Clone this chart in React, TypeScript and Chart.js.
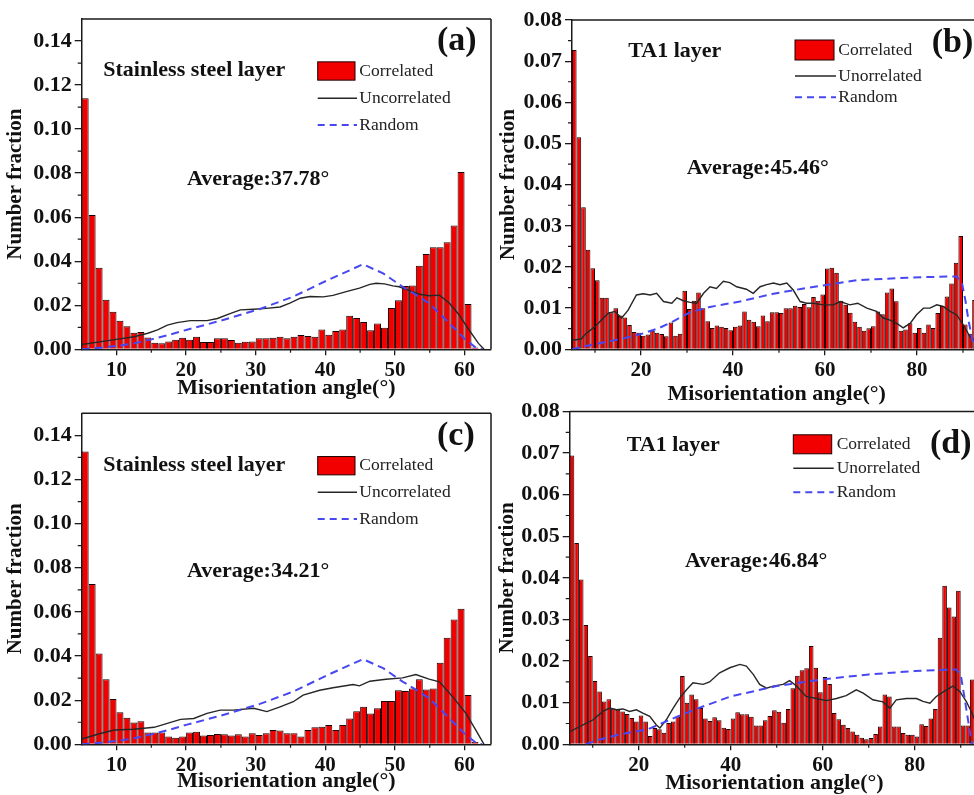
import React, { useEffect, useRef } from "react";
import { Chart, registerables } from "chart.js";
Chart.register(...registerables);

const SERIF = '"Liberation Serif", "Times New Roman", Times, serif';

// ---------- categories (bin centres, degrees) ----------
const steelAngles = [
  5.5, 6.5, 7.5, 8.5, 9.5, 10.5, 11.5, 12.5, 13.5, 14.5, 15.5, 16.5, 17.5, 18.5, 19.5,
  20.5, 21.5, 22.5, 23.5, 24.5, 25.5, 26.5, 27.5, 28.5, 29.5, 30.5, 31.5, 32.5, 33.5, 34.5,
  35.5, 36.5, 37.5, 38.5, 39.5, 40.5, 41.5, 42.5, 43.5, 44.5, 45.5, 46.5, 47.5, 48.5, 49.5,
  50.5, 51.5, 52.5, 53.5, 54.5, 55.5, 56.5, 57.5, 58.5, 59.5, 60.5, 61.5,
];
const ta1Angles = [
  5.5, 6.5, 7.5, 8.5, 9.5, 10.5, 11.5, 12.5, 13.5, 14.5, 15.5, 16.5, 17.5, 18.5, 19.5,
  20.5, 21.5, 22.5, 23.5, 24.5, 25.5, 26.5, 27.5, 28.5, 29.5, 30.5, 31.5, 32.5, 33.5, 34.5,
  35.5, 36.5, 37.5, 38.5, 39.5, 40.5, 41.5, 42.5, 43.5, 44.5, 45.5, 46.5, 47.5, 48.5, 49.5,
  50.5, 51.5, 52.5, 53.5, 54.5, 55.5, 56.5, 57.5, 58.5, 59.5, 60.5, 61.5, 62.5, 63.5, 64.5,
  65.5, 66.5, 67.5, 68.5, 69.5, 70.5, 71.5, 72.5, 73.5, 74.5, 75.5, 76.5, 77.5, 78.5, 79.5,
  80.5, 81.5, 82.5, 83.5, 84.5, 85.5, 86.5, 87.5, 88.5, 89.5, 90.5, 91.5, 92.5,
];

// ---------- correlated (bars) ----------
const corrA = [
  0.114, 0.061, 0.037, 0.0225, 0.017, 0.013, 0.0105, 0.0075, 0.0078, 0.0054,
  0.003, 0.0027, 0.0035, 0.0043, 0.0053, 0.0043, 0.0057, 0.0033, 0.0033, 0.005,
  0.005, 0.0042, 0.003, 0.0034, 0.0035, 0.005, 0.005, 0.0053, 0.0057, 0.005,
  0.0057, 0.0065, 0.006, 0.0057, 0.009, 0.0066, 0.0083, 0.009, 0.0152, 0.0142,
  0.0124, 0.0087, 0.0117, 0.0098, 0.0187, 0.0223, 0.0288, 0.029, 0.0379, 0.0433,
  0.0463, 0.0463, 0.0486, 0.0562, 0.0805, 0.0206, 0.0008,
];
const corrC = [
  0.1327, 0.0727, 0.0411, 0.0295, 0.0205, 0.0145, 0.012, 0.0099, 0.0105, 0.0054,
  0.0054, 0.0054, 0.0035, 0.003, 0.0035, 0.0053, 0.0057, 0.004, 0.0042, 0.0047,
  0.0045, 0.004, 0.0045, 0.0035, 0.005, 0.0042, 0.005, 0.0065, 0.0062, 0.005,
  0.005, 0.0035, 0.0065, 0.0077, 0.008, 0.0087, 0.0065, 0.0087, 0.0117, 0.015,
  0.017, 0.014, 0.0163, 0.0196, 0.0196, 0.0245, 0.0242, 0.0253, 0.0295, 0.0248,
  0.0253, 0.0369, 0.0483, 0.0566, 0.0614, 0.0223, 0.001,
];
const corrB = [
  0.0727, 0.0515, 0.0345, 0.0242, 0.0197, 0.0168, 0.0125, 0.0125, 0.009, 0.01,
  0.0082, 0.0077, 0.0059, 0.0042, 0.004, 0.0033, 0.0036, 0.0045, 0.004, 0.0037,
  0.0032, 0.0065, 0.0033, 0.0038, 0.0142, 0.0098, 0.0118, 0.0138, 0.01, 0.0068,
  0.0052, 0.0058, 0.0055, 0.0052, 0.0046, 0.0055, 0.0058, 0.0092, 0.0072, 0.0067,
  0.0056, 0.0082, 0.0068, 0.009, 0.009, 0.0088, 0.01, 0.01, 0.0106, 0.0103,
  0.011, 0.0102, 0.0127, 0.0118, 0.0133, 0.0196, 0.0198, 0.0186, 0.0118, 0.0108,
  0.0089, 0.0067, 0.0055, 0.0045, 0.0051, 0.0056, 0.0092, 0.0085, 0.0138, 0.0148,
  0.0117, 0.0045, 0.0048, 0.0063, 0.004, 0.0052, 0.004, 0.006, 0.0052, 0.0088,
  0.0105, 0.0128, 0.016, 0.021, 0.0275, 0.006, 0.0038, 0.012,
];
const corrD = [
  0.0694, 0.0484, 0.0396, 0.0287, 0.0212, 0.0152, 0.0127, 0.0103, 0.0108, 0.0086,
  0.0083, 0.0079, 0.0073, 0.0063, 0.0055, 0.0069, 0.0055, 0.002, 0.0039, 0.0036,
  0.0028, 0.0051, 0.0055, 0.0067, 0.0164, 0.01, 0.012, 0.0108, 0.0087, 0.0062,
  0.0056, 0.0065, 0.0058, 0.004, 0.0037, 0.0062, 0.0077, 0.0072, 0.0072, 0.0066,
  0.0045, 0.0045, 0.0058, 0.0068, 0.0082, 0.0078, 0.0052, 0.0085, 0.0135, 0.0165,
  0.0178, 0.0183, 0.0236, 0.0184, 0.0125, 0.0162, 0.0145, 0.0075, 0.006, 0.0047,
  0.0039, 0.0031, 0.0023, 0.0016, 0.0012, 0.0015, 0.0025, 0.0043, 0.012, 0.0115,
  0.0043, 0.0043, 0.0027, 0.0023, 0.0023, 0.0019, 0.0048, 0.0044, 0.0062, 0.0085,
  0.0256, 0.0381, 0.0329, 0.0307, 0.0369, 0.0045, 0.0045, 0.0156,
];

// ---------- uncorrelated (black lines) ----------
const uncorrAX = [5, 7.8, 10, 12.5, 14.5, 15.9, 17.3, 18.7, 20.6, 23, 24.5, 26.4, 27.8, 29.7, 31.5, 33.5, 34.9, 36.4, 37.8, 39.7, 41.1, 43, 44.9, 46.4, 47.3, 48.5, 49.7, 50.6, 52, 53.5, 54.9, 56.4, 57.8, 59.2, 60.6, 62, 62.8];
const uncorrAY = [0.0022, 0.0035, 0.0045, 0.0057, 0.0073, 0.0088, 0.011, 0.0121, 0.013, 0.013, 0.014, 0.0163, 0.0179, 0.0182, 0.0186, 0.0192, 0.021, 0.0232, 0.024, 0.0238, 0.0245, 0.0262, 0.0278, 0.0295, 0.03, 0.0297, 0.0288, 0.0284, 0.0268, 0.025, 0.0243, 0.0246, 0.021, 0.0157, 0.009, 0.0027, 0];
const uncorrCX = [5, 7.8, 9.7, 12.5, 15.4, 17.3, 19.2, 21.1, 23, 24.9, 26.8, 29.7, 31.6, 33.5, 35.4, 36.8, 39.2, 41.1, 44, 44.9, 46.4, 48.7, 51.1, 53, 54.9, 56.4, 58.3, 60.2, 61.6, 62.8];
const uncorrCY = [0.0024, 0.005, 0.0065, 0.0068, 0.0077, 0.0095, 0.0113, 0.0117, 0.014, 0.0155, 0.0155, 0.0163, 0.0148, 0.017, 0.0193, 0.0223, 0.0245, 0.0256, 0.0271, 0.0265, 0.0286, 0.0295, 0.0301, 0.0316, 0.0295, 0.0283, 0.0215, 0.014, 0.0065, 0];
const uncorrBX = [5, 7, 8, 10, 11.4, 12.9, 14.3, 15.8, 17.2, 19, 20.5, 22, 23.4, 24.9, 26.7, 27.8, 29.2, 30.7, 32.1, 33.6, 35, 36.4, 37.9, 39.3, 40.8, 42.9, 44.4, 45.9, 47.3, 48.8, 50.2, 51.7, 53.1, 54.6, 56, 57.5, 59.6, 61.8, 63.3, 65.4, 67.1, 69.1, 71.2, 72.7, 74.1, 75.6, 77, 78.5, 79.9, 81.4, 82.8, 84.3, 85.7, 87.2, 88.6, 90.1, 91.5, 92.5];
const uncorrBY = [0.0022, 0.0025, 0.0038, 0.0055, 0.0071, 0.0088, 0.0092, 0.0076, 0.0095, 0.0132, 0.0135, 0.0132, 0.0136, 0.0116, 0.0112, 0.0125, 0.0118, 0.0114, 0.0112, 0.0136, 0.0152, 0.0148, 0.0165, 0.0162, 0.0152, 0.0146, 0.0136, 0.0152, 0.0157, 0.0161, 0.0157, 0.0161, 0.0144, 0.0116, 0.0112, 0.0112, 0.0108, 0.0108, 0.0116, 0.0108, 0.0112, 0.01, 0.0092, 0.0076, 0.0071, 0.0063, 0.0052, 0.0063, 0.0084, 0.01, 0.01, 0.0108, 0.0104, 0.0092, 0.0084, 0.0059, 0.0031, 0.0022];
const uncorrDX = [5.2, 7.9, 10.1, 12.2, 13.7, 15.1, 16.6, 18, 19.5, 20.9, 22.4, 23.8, 24.6, 26, 27.5, 28.9, 30.4, 31.8, 34, 35.4, 37.6, 39.8, 42, 43.4, 44.9, 46.3, 47.8, 49.2, 51.4, 52.8, 54.3, 56.4, 58.6, 60.8, 63, 65.1, 67.3, 68.8, 70.9, 73.1, 74.6, 76, 78.2, 80.4, 81.8, 83.3, 84.7, 86.9, 88.3, 89.8, 91.2, 92.3, 93];
const uncorrDY = [0.0031, 0.0047, 0.0059, 0.0079, 0.0087, 0.0083, 0.0085, 0.0079, 0.0083, 0.0075, 0.0067, 0.0047, 0.0039, 0.0059, 0.0087, 0.0111, 0.0131, 0.0148, 0.0144, 0.015, 0.0172, 0.0184, 0.0192, 0.0188, 0.0168, 0.0144, 0.0135, 0.014, 0.0144, 0.0153, 0.014, 0.0115, 0.011, 0.0105, 0.011, 0.0117, 0.0131, 0.0123, 0.0107, 0.0102, 0.0087, 0.0107, 0.011, 0.011, 0.0103, 0.0099, 0.0115, 0.0131, 0.014, 0.0127, 0.0103, 0.0079, 0.006];

// ---------- random (blue dashed) ----------
const randomSteelX = [5, 8, 10, 12.5, 15, 17.5, 20, 25, 30.6, 35.4, 40.2, 45.4, 48.3, 51.1, 52.9, 54.9, 56.8, 58.7, 60.1, 61.6, 62.5];
const randomSteelY = [0, 0.0008, 0.0015, 0.0027, 0.0045, 0.0065, 0.0088, 0.013, 0.0183, 0.0239, 0.0312, 0.0386, 0.0345, 0.0284, 0.025, 0.0209, 0.015, 0.009, 0.0045, 0.0008, 0];
const randomBX = [5, 8, 12, 16, 20, 24, 27, 30.7, 35, 41.5, 48.8, 55, 59.6, 66.9, 77.8, 84, 88.6, 89.8, 90.5, 91.2, 92, 92.6];
const randomBY = [0, 0.0008, 0.0017, 0.0026, 0.0037, 0.0052, 0.0068, 0.009, 0.0103, 0.0116, 0.0135, 0.0147, 0.0155, 0.0168, 0.0174, 0.0176, 0.0177, 0.016, 0.012, 0.007, 0.0025, 0];
const randomDX = [8.5, 11, 15.5, 22, 28.5, 33, 40, 50, 60, 70, 80, 89, 90, 91, 92, 92.5];
const randomDY = [0, 0.001, 0.0023, 0.0036, 0.0067, 0.0087, 0.0115, 0.014, 0.0156, 0.0168, 0.0176, 0.018, 0.0168, 0.01, 0.003, 0];

// ---------- ticks ----------
const steelXTicks = [10, 20, 30, 40, 50, 60];
const steelXMinor = [15, 25, 35, 45, 55];
const steelYTicks = [0, 0.02, 0.04, 0.06, 0.08, 0.1, 0.12, 0.14];
const steelYMinor = [0.01, 0.03, 0.05, 0.07, 0.09, 0.11, 0.13];
const ta1XTicks = [20, 40, 60, 80];
const ta1XMinor = [10, 30, 50, 70, 90];
const ta1YTicks = [0, 0.01, 0.02, 0.03, 0.04, 0.05, 0.06, 0.07, 0.08];
const ta1YMinor = [0.005, 0.015, 0.025, 0.035, 0.045, 0.055, 0.065, 0.075];

const RED = "#f20000";
const BAR_EDGE = "#1c0000";
const BLUE = "#4848f0";
const BLACK = "#262626";
const AXIS = "#1a1a1a";

type Txt = { text: string; x: number; y: number; size: number; bold: boolean };
type Legend = { x: number; w: number; y1: number; y2: number; y3: number; textX: number; h: number; labels: string[] };
type Panel = {
  id: string; left: number; top: number; width: number; height: number;
  plotLeft: number; plotTop: number; plotRight: number; plotBottom: number;
  xMin: number; xMax: number; yMax: number;
  xTicks: number[]; xMinor: number[]; yTicks: number[]; yMinor: number[];
  xTitlePad: number; yTitlePad: number; rightBorder: boolean;
  barX: number[]; barY: number[]; uX: number[]; uY: number[]; rX: number[]; rY: number[];
  texts: Txt[]; legend: Legend;
};

const panels: Panel[] = [
  {
    id: "a", left: 0, top: 0, width: 500, height: 400,
    plotLeft: 81.7, plotTop: 19, plotRight: 491, plotBottom: 349.3,
    xMin: 5, xMax: 63.8, yMax: 0.15,
    xTicks: steelXTicks, xMinor: steelXMinor, yTicks: steelYTicks, yMinor: steelYMinor,
    xTitlePad: 1, yTitlePad: 5.5, rightBorder: true,
    barX: steelAngles, barY: corrA, uX: uncorrAX, uY: uncorrAY, rX: randomSteelX, rY: randomSteelY,
    texts: [
      { text: "(a)", x: 437, y: 41.7, size: 34, bold: true },
      { text: "Stainless steel layer", x: 103.3, y: 70.7, size: 22, bold: true },
      { text: "Average:37.78°", x: 187, y: 179, size: 22, bold: true },
    ],
    legend: { x: 317.7, w: 37.3, h: 18.3, y1: 71, y2: 98.3, y3: 125, textX: 359.3, labels: ["Correlated", "Uncorrelated", "Random"] },
  },
  {
    id: "b", left: 490, top: 0, width: 500, height: 405,
    plotLeft: 82, plotTop: 20, plotRight: 491.4, plotBottom: 349.3,
    xMin: 5, xMax: 94, yMax: 0.08,
    xTicks: ta1XTicks, xMinor: ta1XMinor, yTicks: ta1YTicks, yMinor: ta1YMinor,
    xTitlePad: 0, yTitlePad: 7.8, rightBorder: false,
    barX: ta1Angles, barY: corrB, uX: uncorrBX, uY: uncorrBY, rX: randomBX, rY: randomBY,
    texts: [
      { text: "(b)", x: 441.7, y: 43.3, size: 34, bold: true },
      { text: "TA1 layer", x: 138.3, y: 51.7, size: 22, bold: true },
      { text: "Average:45.46°", x: 196.7, y: 168.3, size: 22, bold: true },
    ],
    legend: { x: 305, w: 39, h: 20, y1: 50, y2: 76, y3: 97.3, textX: 348.3, labels: ["Correlated", "Unorrelated", "Random"] },
  },
  {
    id: "c", left: 0, top: 395, width: 500, height: 400,
    plotLeft: 81.7, plotTop: 18.3, plotRight: 491, plotBottom: 349.3,
    xMin: 5, xMax: 63.8, yMax: 0.15,
    xTicks: steelXTicks, xMinor: steelXMinor, yTicks: steelYTicks, yMinor: steelYMinor,
    xTitlePad: 2.3, yTitlePad: 5.5, rightBorder: true,
    barX: steelAngles, barY: corrC, uX: uncorrCX, uY: uncorrCY, rX: randomSteelX, rY: randomSteelY,
    texts: [
      { text: "(c)", x: 437, y: 41.7, size: 34, bold: true },
      { text: "Stainless steel layer", x: 103.3, y: 70.7, size: 22, bold: true },
      { text: "Average:34.21°", x: 187, y: 176.7, size: 22, bold: true },
    ],
    legend: { x: 317.7, w: 37.3, h: 18.3, y1: 70.7, y2: 97.3, y3: 124, textX: 359.3, labels: ["Correlated", "Uncorrelated", "Random"] },
  },
  {
    id: "d", left: 490, top: 395, width: 500, height: 400,
    plotLeft: 79.7, plotTop: 16.5, plotRight: 489.1, plotBottom: 349.3,
    xMin: 5, xMax: 94, yMax: 0.08,
    xTicks: ta1XTicks, xMinor: ta1XMinor, yTicks: ta1YTicks, yMinor: ta1YMinor,
    xTitlePad: 1, yTitlePad: 7, rightBorder: false,
    barX: ta1Angles, barY: corrD, uX: uncorrDX, uY: uncorrDY, rX: randomDX, rY: randomDY,
    texts: [
      { text: "(d)", x: 440, y: 49.3, size: 34, bold: true },
      { text: "TA1 layer", x: 136.7, y: 50, size: 22, bold: true },
      { text: "Average:46.84°", x: 195, y: 166.7, size: 22, bold: true },
    ],
    legend: { x: 303.3, w: 38.4, h: 19, y1: 49.3, y2: 73.3, y3: 97.3, textX: 346.7, labels: ["Correlated", "Unorrelated", "Random"] },
  },
];

function makeOverlay(p: Panel) {
  return {
    id: "overlay_" + p.id,
    afterDraw(chart: any) {
      const { ctx, chartArea: a, scales } = chart;
      const xs = scales.x, ys = scales.y;
      ctx.save();
      ctx.strokeStyle = AXIS;
      ctx.lineWidth = 1.5;
      ctx.beginPath();
      ctx.moveTo(a.left, a.top);
      ctx.lineTo(a.right, a.top);
      if (p.rightBorder) {
        ctx.moveTo(a.right, a.top);
        ctx.lineTo(a.right, a.bottom);
      }
      ctx.stroke();
      ctx.lineWidth = 1.2;
      ctx.beginPath();
      p.xMinor.forEach((v) => {
        const px = xs.getPixelForValue(v);
        ctx.moveTo(px, a.bottom);
        ctx.lineTo(px, a.bottom + 3.5);
      });
      p.yMinor.forEach((v) => {
        const py = ys.getPixelForValue(v);
        ctx.moveTo(a.left - 4, py);
        ctx.lineTo(a.left, py);
      });
      ctx.stroke();
      ctx.fillStyle = "#111";
      ctx.textAlign = "left";
      ctx.textBaseline = "middle";
      p.texts.forEach((t) => {
        ctx.font = `${t.bold ? "bold " : ""}${t.size}px ${SERIF}`;
        ctx.fillText(t.text, t.x, t.y);
      });
      const L = p.legend;
      ctx.fillStyle = RED;
      ctx.fillRect(L.x, L.y1 - L.h / 2, L.w, L.h);
      ctx.strokeStyle = BAR_EDGE;
      ctx.lineWidth = 1;
      ctx.strokeRect(L.x, L.y1 - L.h / 2, L.w, L.h);
      ctx.strokeStyle = BLACK;
      ctx.lineWidth = 1.5;
      ctx.beginPath();
      ctx.moveTo(L.x, L.y2);
      ctx.lineTo(L.x + L.w + 2, L.y2);
      ctx.stroke();
      ctx.strokeStyle = BLUE;
      ctx.lineWidth = 2;
      ctx.setLineDash([7, 5]);
      ctx.beginPath();
      ctx.moveTo(L.x, L.y3);
      ctx.lineTo(L.x + L.w + 2, L.y3);
      ctx.stroke();
      ctx.setLineDash([]);
      ctx.fillStyle = "#222";
      ctx.font = `17.5px ${SERIF}`;
      ctx.fillText(L.labels[0], L.textX, L.y1);
      ctx.fillText(L.labels[1], L.textX, L.y2);
      ctx.fillText(L.labels[2], L.textX, L.y3);
      ctx.restore();
    },
  };
}

function buildChart(canvas: HTMLCanvasElement, p: Panel) {
  const tickFont = { family: SERIF, size: 21, weight: "bold" as const };
  return new Chart(canvas, {
    type: "bar",
    data: {
      datasets: [
        {
          type: "line" as const,
          label: "Random",
          data: p.rX.map((x, i) => ({ x, y: p.rY[i] })),
          borderColor: BLUE,
          borderWidth: 2,
          borderDash: [8, 5],
          pointRadius: 0,
          fill: false,
          tension: 0,
          order: 0,
        },
        {
          type: "line" as const,
          label: "Uncorrelated",
          data: p.uX.map((x, i) => ({ x, y: p.uY[i] })),
          borderColor: BLACK,
          borderWidth: 1.4,
          pointRadius: 0,
          fill: false,
          tension: 0,
          order: 1,
        },
        {
          type: "bar" as const,
          label: "Correlated",
          data: p.barX.map((x, i) => ({ x, y: p.barY[i] })),
          backgroundColor: RED,
          borderColor: BAR_EDGE,
          borderWidth: { left: 1, right: 1, top: 1, bottom: 0 },
          borderSkipped: false,
          inflateAmount: 0,
          barPercentage: 1,
          categoryPercentage: 1,
          order: 2,
        },
      ] as any,
    },
    options: {
      responsive: false,
      animation: false,
      devicePixelRatio: 1,
      events: [],
      layout: { padding: { left: 0, top: p.plotTop, right: p.width - p.plotRight, bottom: 0 } },
      plugins: { legend: { display: false }, tooltip: { enabled: false } },
      scales: {
        x: {
          type: "linear",
          min: p.xMin,
          max: p.xMax,
          offset: false,
          afterBuildTicks: (s: any) => {
            s.ticks = p.xTicks.map((value) => ({ value }));
          },
          afterFit: (s: any) => {
            s.height = p.height - p.plotBottom;
          },
          ticks: { font: tickFont, color: "#111", padding: 3, maxRotation: 0, autoSkip: false, callback: (v: any) => String(v) },
          grid: { offset: false, drawOnChartArea: false, drawTicks: true, tickLength: 6, color: AXIS, lineWidth: 1.3 },
          border: { display: true, color: AXIS, width: 1.5 },
          title: {
            display: true,
            text: "Misorientation angle(°)",
            color: "#111",
            font: { family: SERIF, size: 22, weight: "bold", lineHeight: 1 },
            padding: { top: 0, bottom: p.xTitlePad },
          },
        },
        y: {
          type: "linear",
          min: 0,
          max: p.yMax,
          afterBuildTicks: (s: any) => {
            s.ticks = p.yTicks.map((value) => ({ value }));
          },
          afterFit: (s: any) => {
            s.width = p.plotLeft;
          },
          ticks: { font: { family: SERIF, size: 22, weight: "bold" }, color: "#111", padding: 3, callback: (v: any) => Number(v).toFixed(2) },
          grid: { drawOnChartArea: false, drawTicks: true, tickLength: 7, color: AXIS, lineWidth: 1.3 },
          border: { display: true, color: AXIS, width: 1.5 },
          title: {
            display: true,
            text: "Number fraction",
            color: "#111",
            font: { family: SERIF, size: 21, weight: "bold", lineHeight: 1 },
            padding: { top: p.yTitlePad, bottom: 0 },
          },
        },
      } as any,
    },
    plugins: [makeOverlay(p)],
  });
}

function PanelChart({ p }: { p: Panel }) {
  const ref = useRef<HTMLCanvasElement>(null);
  useEffect(() => {
    const chart = buildChart(ref.current as HTMLCanvasElement, p);
    return () => chart.destroy();
  }, [p]);
  return (
    <canvas
      ref={ref}
      width={p.width}
      height={p.height}
      style={{ position: "absolute", left: p.left, top: p.top, width: p.width, height: p.height }}
    />
  );
}

export default function App() {
  return (
    <div style={{ position: "absolute", left: 0, top: 0, width: 974, height: 795, overflow: "hidden", background: "#fff" }}>
      {panels.map((p) => (
        <PanelChart key={p.id} p={p} />
      ))}
    </div>
  );
}
